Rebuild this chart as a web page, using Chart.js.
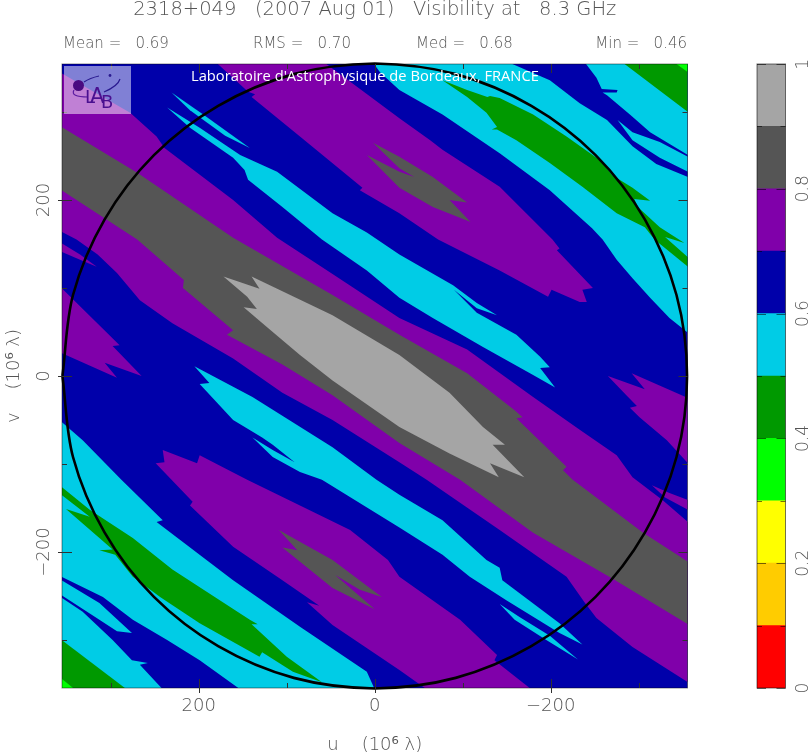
<!DOCTYPE html>
<html>
<head>
<meta charset="utf-8">
<title>2318+049 visibility</title>
<script src="https://cdn.jsdelivr.net/npm/chart.js@4/dist/chart.umd.min.js"></script>
<style>
html,body{margin:0;padding:0;background:#fff;overflow:hidden}
canvas{position:absolute;top:0}
#main{left:0}
#bar{left:700px}
</style>
</head>
<body>
<canvas id="main" width="810" height="756"></canvas>
<canvas id="bar" width="110" height="756"></canvas>
<script>
// header numbers
const titleText = '2318+049   (2007 Aug 01)   Visibility at   8.3 GHz';
const statNames = ['Mean', 'RMS', 'Med', 'Min'];
const statValues = ['0.69', '0.70', '0.68', '0.46'];

// axes
const uMajor = [200, 0, -200];
const uMinor = [300, 100, -100, -300];
const vMajor = [-200, 0, 200];
const vMinor = [-300, -100, 100, 300];
const levelTicks = [0, 0.2, 0.4, 0.6, 0.8, 1];
const levelMinor = [0.1, 0.3, 0.5, 0.7, 0.9];

// colour scale, low to high
const levelColors = ['#ff0000', '#ffcc00', '#ffff00', '#00ff00', '#009900', '#00cce6', '#0000aa', '#8000aa', '#555555', '#a5a5a5'];
const levelWidths = [0.1, 0.1, 0.1, 0.1, 0.1, 0.1, 0.1, 0.1, 0.1, 0.1];
const red = 0, lime = 3, green = 4, cyan = 5, blue = 6, purple = 7, gray = 8, light = 9;

// contour regions as [u, v], in 10^6 lambda
const baseSquare = [[356,356],[-356,356],[-356,-356],[356,-356]];
const cyanUpperRight = [[2,356],[-6,345],[-28,325],[-77,297],[-142,253],[-199,211],[-247,168],[-259,155],[-275,132],[-293,111],[-313,89],[-335,66],[-356,49],[-356,356]];
const greenCornerUpper = [[-282,356],[-356,356],[-356,300]];
const limeCornerUpper = [[-341,356],[-356,356],[-356,345]];
const blueUpperRight = [[-153,356],[-199,336],[-233,310],[-264,291],[-293,261],[-320,241],[-356,226],[-356,232],[-324,248],[-293,268],[-276,291],[-293,277],[-324,266],[-356,249],[-356,251],[-313,277],[-290,297],[-264,319],[-259,322],[-275,322],[-276,325],[-258,326],[-252,339],[-239,356]];
const greenUpperRight = [[-77,336],[-105,325],[-128,317],[-131,318],[-142,316],[-180,297],[-218,272],[-256,245],[-270,228],[-293,214],[-313,199],[-295,201],[-299,192],[-324,169],[-352,151],[-330,158],[-356,135],[-356,124],[-318,155],[-307,169],[-275,185],[-236,215],[-199,242],[-161,268],[-139,280],[-133,280],[-139,283],[-127,299],[-105,317]];
const cyanLowerLeft = [[356,-52],[332,-73],[288,-118],[241,-164],[248,-166],[161,-232],[85,-285],[9,-336],[0,-356],[356,-356]];
const greenCornerLower = [[356,-300],[282,-356],[356,-356]];
const limeCornerLower = [[356,-344],[341,-356],[356,-356]];
const blueLowerLeft = [[153,-356],[199,-323],[236,-300],[275,-277],[309,-251],[356,-228],[356,-232],[313,-258],[276,-292],[293,-290],[313,-277],[356,-249],[356,-252],[332,-268],[298,-300],[276,-323],[258,-326],[267,-328],[241,-356]];
const greenLowerLeft = [[356,-126],[324,-152],[275,-184],[230,-220],[142,-277],[133,-282],[140,-282],[100,-319],[60,-348],[93,-336],[128,-314],[131,-319],[199,-281],[244,-251],[275,-228],[295,-203],[313,-198],[298,-197],[313,-184],[351,-151],[324,-160],[356,-135]];
const purpleUpper = [[180,356],[144,323],[136,320],[140,317],[85,272],[14,214],[17,211],[-28,185],[-72,155],[-142,120],[-197,90],[-201,98],[-233,84],[-241,84],[-236,98],[-248,100],[-207,143],[-210,145],[-202,155],[-142,215],[-77,257],[-63,268],[-28,293],[57,356]];
const grayIslandUpper = [[2,265],[-28,249],[-66,226],[-105,197],[-85,200],[-109,175],[-66,192],[-28,214],[9,251],[-28,232],[-45,226],[-28,236]];
const purpleCentre = [[356,344],[278,299],[248,272],[239,259],[161,200],[111,157],[48,116],[-28,66],[-105,30],[-180,-24],[-233,-61],[-275,-90],[-293,-115],[-327,-141],[-356,-166],[-356,-348],[-293,-308],[-252,-275],[-239,-258],[-218,-228],[-142,-175],[-59,-118],[-28,-98],[48,-50],[105,-19],[161,20],[230,60],[267,86],[293,117],[315,138],[339,155],[356,164]];
const grayBand = [[356,283],[270,231],[161,157],[48,92],[-28,47],[-105,3],[-159,-39],[-168,-47],[-161,-48],[-218,-103],[-214,-107],[-225,-118],[-305,-178],[-356,-211],[-356,-282],[-270,-230],[-180,-178],[-97,-118],[-28,-76],[48,-22],[105,13],[168,47],[161,52],[218,100],[217,109],[270,155],[356,211]];
const lightCore = [[172,113],[131,99],[140,113],[48,69],[-28,24],[-85,-19],[-123,-58],[-148,-78],[-134,-78],[-170,-115],[-131,-99],[-141,-115],[-85,-88],[-28,-58],[48,-5],[85,24],[123,56],[149,78],[134,76],[145,90]];
const purpleRight = [[-265,0],[-307,-15],[-292,3],[-356,-25],[-356,-99],[-332,-73],[-301,-47],[-290,-36],[-298,-34],[-286,-22]];
const purpleLeft = [[356,100],[290,35],[298,34],[265,0],[307,15],[293,-2],[356,26]];
const purpleSliverLeft = [[356,151],[335,138],[316,124],[335,132],[356,141]];
const purpleSliverRight = [[-315,-124],[-335,-133],[-356,-141],[-356,-152],[-330,-138]];
const purpleLower = [[241,-84],[202,-99],[199,-90],[145,-118],[85,-147],[28,-175],[-15,-209],[-28,-228],[-97,-277],[-139,-317],[-136,-323],[-178,-356],[-59,-356],[-28,-334],[48,-283],[77,-257],[63,-261],[105,-232],[161,-194],[210,-147],[207,-143],[231,-118],[249,-99],[239,-98]];
const grayIslandLower = [[109,-175],[48,-209],[-8,-251],[17,-243],[45,-226],[0,-265],[48,-241],[105,-195],[88,-198]];
const cyanMidUpper = [[236,305],[199,282],[153,251],[111,232],[48,185],[9,163],[-28,138],[-89,103],[-116,83],[-139,69],[-116,77],[-90,98],[-116,72],[-161,47],[-188,22],[-199,10],[-188,9],[-205,-13],[-180,1],[-123,33],[-66,66],[-28,89],[9,120],[60,155],[105,192],[144,223],[148,234],[161,248],[210,282]];
const cyanSliverUpper = [[231,322],[195,297],[142,259],[170,273],[210,302]];
const cyanMidLower = [[205,11],[139,-24],[48,-81],[-2,-118],[-28,-135],[-77,-164],[-127,-209],[-142,-218],[-145,-232],[-210,-281],[-236,-305],[-210,-292],[-150,-255],[-108,-228],[-77,-203],[-28,-172],[60,-118],[85,-109],[116,-92],[139,-70],[116,-84],[91,-98],[116,-78],[128,-70],[161,-50],[199,-9],[188,-8]];
const cyanSliverLower = [[-142,-259],[-165,-274],[-199,-295],[-231,-322],[-195,-300],[-159,-277]];
const baselineCircle = [[355,0],[343,92],[307,178],[251,251],[178,307],[92,343],[0,355],[-92,343],[-178,307],[-251,251],[-307,178],[-343,92],[-355,0],[-343,-92],[-307,-178],[-251,-251],[-178,-307],[-92,-343],[0,-355],[92,-343],[178,-307],[251,-251],[307,-178],[343,-92],[355,0]];

// painted bottom to top
const layers = [
    [baseSquare, blue],
    [cyanUpperRight, cyan], [greenCornerUpper, green], [limeCornerUpper, lime], [blueUpperRight, blue], [greenUpperRight, green],
    [cyanLowerLeft, cyan], [greenCornerLower, green], [limeCornerLower, lime], [blueLowerLeft, blue], [greenLowerLeft, green],
    [purpleUpper, purple], [grayIslandUpper, gray],
    [purpleCentre, purple], [grayBand, gray], [lightCore, light],
    [purpleRight, purple], [purpleLeft, purple], [purpleSliverLeft, purple], [purpleSliverRight, purple],
    [purpleLower, purple], [grayIslandLower, gray],
    [cyanMidUpper, cyan], [cyanSliverUpper, cyan], [cyanMidLower, cyan], [cyanSliverLower, cyan]
];

const plotFont = '"DejaVu Sans Light", "DejaVu Sans", sans-serif';
const plotGray = '#555555';

const minusSign = v => String(v).replace('-', '\u2212');

const regionSets = layers.map((l, i) => ({
    data: l[0],
    showLine: true,
    fill: 'shape',
    backgroundColor: levelColors[l[1]],
    borderWidth: 0,
    pointRadius: 0,
    order: layers.length - i + 1
}));

const circleSet = {
    data: baselineCircle,
    showLine: true,
    fill: false,
    borderColor: '#000',
    borderWidth: 2.6,
    pointRadius: 0,
    tension: 0.33,
    clip: false,
    order: 0
};

const drawLogo = (ctx) => {
    ctx.save();
    ctx.fillStyle = 'rgba(255,255,255,0.5)';
    ctx.fillRect(64, 66, 67, 48);
    ctx.strokeStyle = '#2a1a90';
    ctx.fillStyle = '#4a0a80';
    ctx.lineWidth = 1.2;
    ctx.beginPath();
    ctx.arc(78.5, 85.5, 5.5, 0, Math.PI * 2);
    ctx.fill();
    ctx.beginPath();
    ctx.moveTo(84, 82);
    ctx.quadraticCurveTo(90, 78, 99, 76);
    ctx.moveTo(120, 79);
    ctx.quadraticCurveTo(118, 86, 104, 92);
    ctx.stroke();
    ctx.strokeStyle = '#5a1aa0';
    ctx.beginPath();
    ctx.moveTo(74, 90);
    ctx.quadraticCurveTo(70, 97, 88, 97);
    ctx.stroke();
    ctx.beginPath();
    ctx.fillStyle = '#2a1a90';
    ctx.arc(110, 75.5, 1.4, 0, Math.PI * 2);
    ctx.fill();
    ctx.fillStyle = '#4a1090';
    ctx.textBaseline = 'alphabetic';
    ctx.font = '18px "DejaVu Sans"';
    ctx.fillText('L', 85, 103);
    ctx.fillText('B', 101, 108);
    ctx.font = '21px "DejaVu Sans"';
    ctx.fillText('A', 90, 103);
    ctx.restore();
};

const drawTick = (ctx, x1, y1, x2, y2) => {
    ctx.beginPath();
    ctx.moveTo(x1, y1);
    ctx.lineTo(x2, y2);
    ctx.stroke();
};

const plotFrame = {
    id: 'plotFrame',
    afterDatasetsDraw(chart) {
        const {ctx, chartArea: a, scales} = chart;
        ctx.save();
        ctx.strokeStyle = 'rgba(0,0,0,0.45)';
        ctx.lineWidth = 1;
        ctx.strokeRect(a.left, a.top, a.right - a.left, a.bottom - a.top);
        ctx.strokeStyle = '#303030';
        uMajor.forEach(v => {
            const x = Math.round(scales.x.getPixelForValue(v)) + 0.5;
            drawTick(ctx, x, a.bottom + 5, x, a.bottom - 9);
            drawTick(ctx, x, a.top, x, a.top + 9);
        });
        uMinor.forEach(v => {
            const x = Math.round(scales.x.getPixelForValue(v)) + 0.5;
            drawTick(ctx, x, a.bottom, x, a.bottom - 5);
            drawTick(ctx, x, a.top, x, a.top + 5);
        });
        vMajor.forEach(v => {
            const y = Math.round(scales.y.getPixelForValue(v)) + 0.5;
            drawTick(ctx, a.left - 4, y, a.left + 10, y);
            drawTick(ctx, a.right, y, a.right - 9, y);
        });
        vMinor.forEach(v => {
            const y = Math.round(scales.y.getPixelForValue(v)) + 0.5;
            drawTick(ctx, a.left, y, a.left + 5, y);
            drawTick(ctx, a.right, y, a.right - 5, y);
        });
        ctx.restore();
        drawLogo(ctx);
        ctx.save();
        ctx.fillStyle = '#fff';
        ctx.font = '14.7px "Open Sans"';
        ctx.textBaseline = 'middle';
        ctx.fillText("Laboratoire d'Astrophysique de Bordeaux, FRANCE", 191, 77);
        ctx.fillStyle = plotGray;
        ctx.font = '15px ' + plotFont;
        statNames.forEach((n, i) => {
            ctx.textAlign = i == 3 ? 'right' : 'left';
            const x = [63, 253, 416, 687][i];
            ctx.fillText(n + ' =   ' + statValues[i], x, 44);
        });
        ctx.restore();
    }
};

new Chart(document.getElementById('main'), {
    type: 'scatter',
    data: {datasets: [circleSet].concat(regionSets)},
    plugins: [plotFrame],
    options: {
        responsive: false,
        animation: false,
        devicePixelRatio: 1,
        layout: {padding: {left: 0, right: 122.5, top: 0, bottom: 0}},
        plugins: {
            legend: {display: false},
            tooltip: {enabled: false},
            title: {
                display: true,
                text: titleText,
                fullSize: false,
                color: plotGray,
                font: {family: plotFont, size: 19.5, weight: 'normal', lineHeight: 1},
                padding: {top: 0, bottom: 44.5}
            }
        },
        scales: {
            x: {
                type: 'linear',
                min: -355.5,
                max: 355.5,
                reverse: true,
                grid: {display: false, drawTicks: false},
                border: {display: false},
                afterBuildTicks: s => { s.ticks = uMajor.map(v => ({value: v})); },
                afterFit: s => { s.height = 68; },
                ticks: {
                    autoSkip: false,
                    padding: 8,
                    color: plotGray,
                    font: {family: plotFont, size: 18},
                    callback: minusSign
                },
                title: {
                    display: true,
                    text: 'u    (10\u2076 \u03bb)',
                    color: plotGray,
                    font: {family: plotFont, size: 18},
                    padding: {top: 0, bottom: 0}
                }
            },
            y: {
                type: 'linear',
                min: -354.5,
                max: 354.5,
                grid: {display: false, drawTicks: false},
                border: {display: false},
                afterBuildTicks: s => { s.ticks = vMajor.map(v => ({value: v})); },
                afterFit: s => { s.width = 62; },
                ticks: {
                    autoSkip: false,
                    minRotation: 90,
                    maxRotation: 90,
                    crossAlign: 'center',
                    padding: -7.5,
                    color: plotGray,
                    font: {family: plotFont, size: 18},
                    callback: minusSign
                },
                title: {
                    display: true,
                    text: 'v    (10\u2076 \u03bb)',
                    color: plotGray,
                    font: {family: plotFont, size: 18},
                    padding: {top: 4, bottom: 0}
                }
            }
        }
    }
});

const barFrame = {
    id: 'barFrame',
    afterDatasetsDraw(chart) {
        const {ctx, chartArea: a, scales} = chart;
        ctx.save();
        ctx.lineWidth = 1;
        ctx.strokeStyle = 'rgba(0,0,0,0.55)';
        ctx.strokeRect(a.left, a.top, a.right - a.left, a.bottom - a.top);
        levelTicks.forEach(v => {
            const y = Math.round(scales.y.getPixelForValue(v)) + 0.5;
            drawTick(ctx, a.left, y, a.left + 9, y);
            drawTick(ctx, a.right, y, a.right - 9, y);
        });
        levelMinor.forEach(v => {
            const y = Math.round(scales.y.getPixelForValue(v)) + 0.5;
            drawTick(ctx, a.left, y, a.left + 5, y);
            drawTick(ctx, a.right, y, a.right - 5, y);
        });
        ctx.restore();
    }
};

new Chart(document.getElementById('bar'), {
    type: 'bar',
    data: {
        labels: ['Visibility'],
        datasets: levelWidths.map((w, i) => ({
            data: [w],
            backgroundColor: levelColors[i],
            borderWidth: 0,
            barPercentage: 1,
            categoryPercentage: 1
        }))
    },
    plugins: [barFrame],
    options: {
        responsive: false,
        animation: false,
        devicePixelRatio: 1,
        layout: {padding: {left: 57, right: 0, top: 64, bottom: 68}},
        plugins: {legend: {display: false}, tooltip: {enabled: false}},
        scales: {
            x: {stacked: true, display: false},
            y: {
                stacked: true,
                position: 'right',
                min: 0,
                max: 1,
                grid: {display: false, drawTicks: false},
                border: {display: false},
                afterBuildTicks: s => { s.ticks = levelTicks.map(v => ({value: v})); },
                afterFit: s => { s.width = 24.5; },
                ticks: {
                    autoSkip: false,
                    minRotation: 90,
                    maxRotation: 90,
                    crossAlign: 'center',
                    padding: 5,
                    color: plotGray,
                    font: {family: plotFont, size: 17},
                    callback: v => String(v)
                }
            }
        }
    }
});
</script>
</body>
</html>
